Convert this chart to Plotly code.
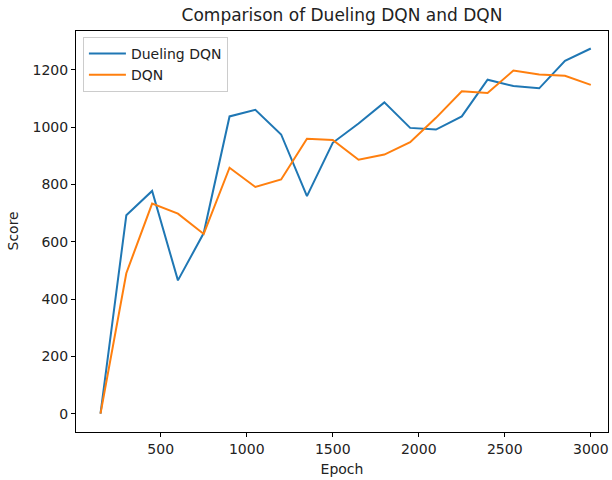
import plotly.graph_objects as go

epochs = [150, 300, 450, 600, 750, 900, 1050, 1200, 1350, 1500,
          1650, 1800, 1950, 2100, 2250, 2400, 2550, 2700, 2850, 3000]
dueling_dqn = [0, 692, 777, 465, 630, 1037, 1060, 974, 759, 945,
               1012, 1086, 997, 991, 1037, 1165, 1143, 1135, 1231, 1274]
dqn = [0, 490, 733, 698, 627, 858, 791, 817, 959, 955,
       886, 904, 947, 1032, 1125, 1119, 1197, 1183, 1179, 1147]

fig = go.Figure()
fig.add_trace(go.Scatter(x=epochs, y=dueling_dqn, mode="lines", name="Dueling DQN",
                         line=dict(color="#1f77b4", width=2)))
fig.add_trace(go.Scatter(x=epochs, y=dqn, mode="lines", name="DQN",
                         line=dict(color="#ff7f0e", width=2)))

axis_common = dict(showline=True, linecolor="black", linewidth=1, mirror=True,
                   ticks="outside", ticklen=4, tickcolor="black", showgrid=False,
                   zeroline=False, tickfont=dict(size=14, color="#222222"))

fig.update_layout(
    width=612, height=480,
    margin=dict(l=76, r=4, t=31, b=48, autoexpand=False),
    paper_bgcolor="white", plot_bgcolor="white",
    font=dict(family="DejaVu Sans", color="#222222"),
    title=dict(text="Comparison of Dueling DQN and DQN", x=0.5, xanchor="center",
               xref="paper", y=0.968, yref="container", yanchor="middle",
               font=dict(size=17)),
    xaxis=dict(axis_common, range=[7.5, 3100], tickvals=[500, 1000, 1500, 2000, 2500, 3000],
               title=dict(text="Epoch", font=dict(size=14), standoff=8)),
    yaxis=dict(axis_common, range=[-64, 1335], tickvals=[0, 200, 400, 600, 800, 1000, 1200]),
    legend=dict(x=0.013, y=0.985, xanchor="left", yanchor="top",
                bordercolor="#cccccc", borderwidth=1, bgcolor="rgba(255,255,255,0.8)",
                font=dict(size=14), itemwidth=37),
    showlegend=True,
)
fig.add_annotation(text="Score", xref="paper", yref="paper", x=-0.1203, y=0.5,
                   xanchor="center", yanchor="middle", textangle=-90, showarrow=False,
                   font=dict(size=14, color="#222222"))

fig.write_html("out.html", config={"displayModeBar": False},
               post_script="document.body.style.margin='0';")
